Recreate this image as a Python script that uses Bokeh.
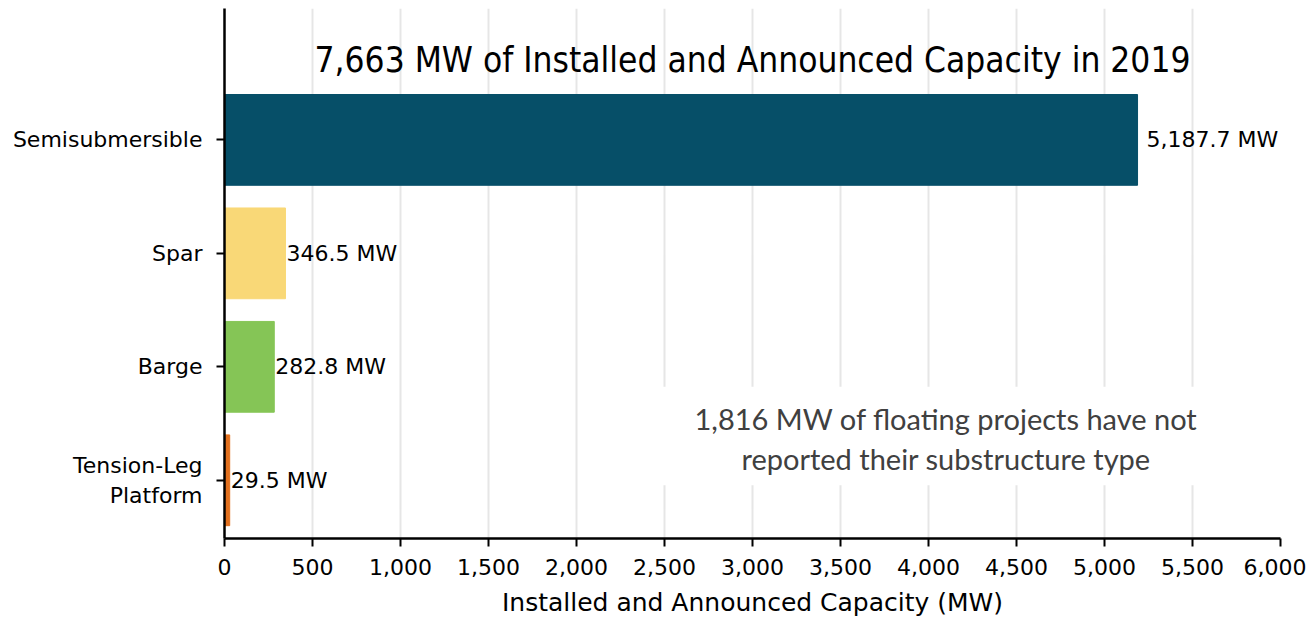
from bokeh.plotting import figure
from bokeh.models import Range1d, FixedTicker, NumeralTickFormatter, ColumnDataSource
from bokeh.core.properties import value
from bokeh.embed import file_html
from bokeh.resources import INLINE

categories = ["Tension-Leg\nPlatform", "Barge", "Spar", "Semisubmersible"]
capacity = [29.5, 282.8, 346.5, 5187.7]
bar_colors = ["#E2701E", "#85C556", "#F9D877", "#064F68"]
value_labels = ["29.5 MW", "282.8 MW", "346.5 MW", "5,187.7 MW"]
x_ticks = [0, 500, 1000, 1500, 2000, 2500, 3000, 3500, 4000, 4500, 5000, 5500, 6000]
title_text = "7,663 MW of Installed and Announced Capacity in 2019"
note_lines = ["1,816 MW of floating projects have not", "reported their substructure type"]

ypos = list(range(len(categories)))
label_offsets = [1, 1, 1, 9]

src = ColumnDataSource(dict(y=ypos, cap=capacity, color=bar_colors,
                            lab=value_labels, off=label_offsets))

p = figure(width=1306, height=619, output_backend="svg", toolbar_location=None,
           x_range=Range1d(0, 6000), y_range=Range1d(-0.513, 4.158),
           min_border_left=224, min_border_right=26, min_border_top=8,
           min_border_bottom=78)
p.outline_line_color = None
p.background_fill_color = "white"

p.hbar(y="y", right="cap", left=0, height=0.8, color="color", source=src)
p.text(x="cap", y="y", text="lab", x_offset="off", source=src,
       text_font=value("DejaVu Sans"), text_font_size="22px",
       text_baseline="middle", text_align="left", text_color="black")

# note box and text
p.quad(left=[2450], right=[5800], bottom=[-0.044], top=[0.825],
       fill_color="white", line_color=None)
p.text(x=[4100, 4100], y=[0.546, 0.195], text=note_lines,
       text_font=value("Lato"), text_font_size="29px", text_color="#404040",
       text_align="center", text_baseline="middle")

p.text(x=[3000], y=[3.70], text=[title_text],
       text_font=value("DejaVu Sans Condensed"), text_font_size="35px",
       text_color="black", text_align="center", text_baseline="middle")

p.xgrid.grid_line_color = "#e6e6e6"
p.xgrid.grid_line_width = 2
p.ygrid.grid_line_color = None
p.xgrid.ticker = FixedTicker(ticks=x_ticks)

for ax in (p.xaxis[0], p.yaxis[0]):
    ax.axis_line_width = 2.5
    ax.axis_line_color = "black"
    ax.major_tick_line_width = 2
    ax.major_tick_line_color = "black"
    ax.major_tick_out = 8
    ax.major_tick_in = 0
    ax.minor_tick_line_color = None
    ax.major_label_text_font = "DejaVu Sans"
    ax.major_label_text_font_size = "22px"
    ax.major_label_text_color = "black"

p.xaxis.ticker = FixedTicker(ticks=x_ticks)
p.xaxis.formatter = NumeralTickFormatter(format="0,0")
p.xaxis.axis_label = "Installed and Announced Capacity (MW)"
p.xaxis.axis_label_text_font = "DejaVu Sans"
p.xaxis.axis_label_text_font_style = "normal"
p.xaxis.axis_label_text_font_size = "25px"
p.xaxis.axis_label_text_color = "black"
p.xaxis.axis_label_standoff = 10
p.xaxis.major_label_standoff = 12

p.yaxis.ticker = FixedTicker(ticks=ypos)
p.yaxis.major_label_overrides = {i: c for i, c in zip(ypos, categories)}
p.yaxis.major_label_standoff = 14
p.yaxis.major_label_text_align = "right"

open("out.html", "w").write(file_html(p, INLINE))
